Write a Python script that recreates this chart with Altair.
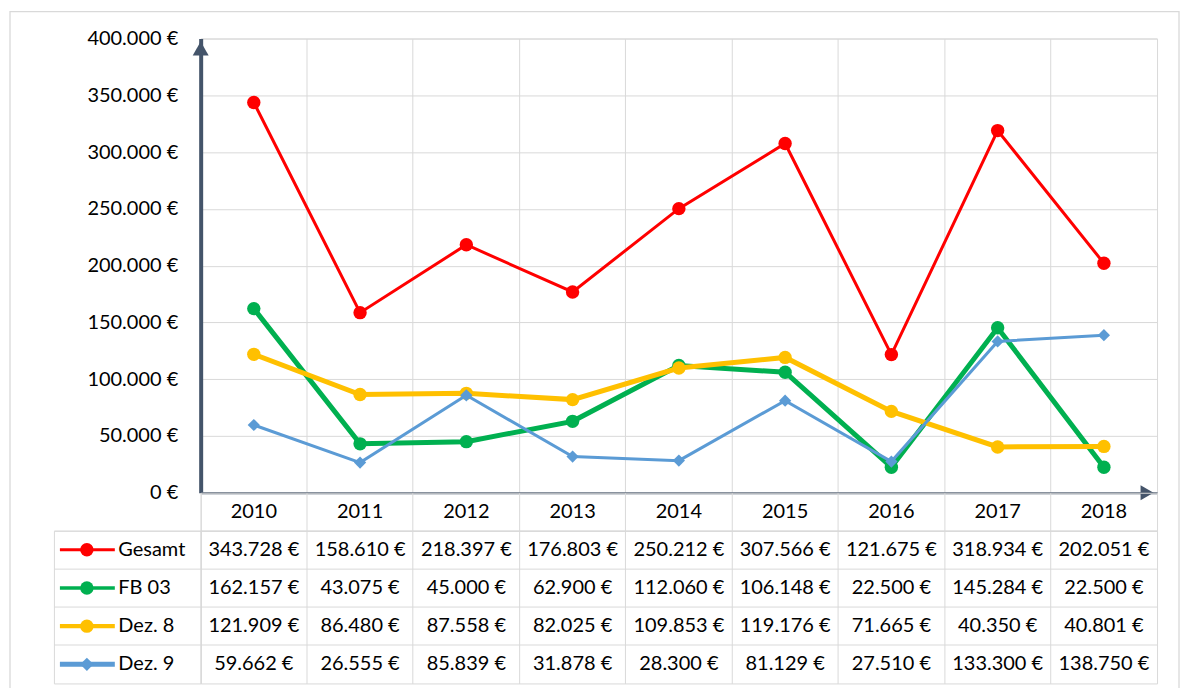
import altair as alt
import pandas as pd

years = ["2010", "2011", "2012", "2013", "2014", "2015", "2016", "2017", "2018"]
series = ["Gesamt", "FB 03", "Dez. 8", "Dez. 9"]
gesamt = [343728, 158610, 218397, 176803, 250212, 307566, 121675, 318934, 202051]
fb03 = [162157, 43075, 45000, 62900, 112060, 106148, 22500, 145284, 22500]
dez8 = [121909, 86480, 87558, 82025, 109853, 119176, 71665, 40350, 40801]
dez9 = [59662, 26555, 85839, 31878, 28300, 81129, 27510, 133300, 138750]
y_ticks = [0, 50000, 100000, 150000, 200000, 250000, 300000, 350000, 400000]

colors = ["#FF0000", "#00B050", "#FFC000", "#5B9BD5"]
widths = [3, 5, 5, 3]
shapes = ["circle", "circle", "circle", "diamond"]
sizes = [180, 180, 180, 150]

FONT = "Lato"
FS = 20
GRID = "#D9D9D9"
AXIS = "#44546A"
W_LBL, W_PLOT = 147, 958
H_PLOT, H_HDR, H_TBL = 455, 38, 153


def fmt(v):
    return f"{v:,}".replace(",", ".") + " €"


rows = []
for s, vals in zip(series, [gesamt, fb03, dez8, dez9]):
    for yr, v in zip(years, vals):
        rows.append({"series": s, "year": yr, "value": v, "label": fmt(v)})
df = pd.DataFrame(rows)

xscale = alt.Scale(type="band", domain=years, paddingInner=0, paddingOuter=0)
yscale = alt.Scale(domain=[0, 400000], nice=False)
sscale = alt.Scale(type="band", domain=series, paddingInner=0, paddingOuter=0)
cscale = alt.Scale(domain=series, range=colors)
wscale = alt.Scale(domain=series, range=widths)
shscale = alt.Scale(domain=series, range=shapes)
szscale = alt.Scale(domain=series, range=sizes)

x_top = alt.X("year:N", scale=xscale, title=None,
              axis=alt.Axis(labels=False, ticks=False, domain=True, domainColor=AXIS,
                            domainWidth=2, grid=True, gridColor=GRID, gridWidth=1,
                            bandPosition=0))
y_top = alt.Y("value:Q", scale=yscale, title=None,
              axis=alt.Axis(values=y_ticks,
                            labelExpr="replace(format(datum.value, ','), ',', '.') + ' €'",
                            labelFont=FONT, labelFontSize=FS, labelColor="#000000",
                            labelPadding=23, ticks=False, tickSize=0, domain=True,
                            domainColor=AXIS, domainWidth=4, grid=True, gridColor=GRID,
                            gridWidth=1))

one = pd.DataFrame({"a": [0]})

# outer chart frame (decoration)
frame = alt.Chart(one).mark_rect(fill="transparent", stroke=GRID, strokeWidth=1.3).encode(
    x=alt.value(-191), x2=alt.value(W_PLOT + 22),
    y=alt.value(-27), y2=alt.value(H_PLOT + 200),
)

layers = [frame]
for s, c, w, sh, sz in zip(series, colors, widths, shapes, sizes):
    base = alt.Chart(df).transform_filter(alt.datum.series == s)
    layers.append(base.mark_line(color=c, strokeWidth=w).encode(x=x_top, y=y_top))
    layers.append(base.mark_point(shape=sh, size=sz, filled=True, color=c, opacity=1)
                  .encode(x=x_top, y=y_top))

arrow_up = alt.Chart(one).mark_point(shape="triangle-up", size=256, filled=True,
                                     color=AXIS, opacity=1, yOffset=10).encode(
    x=alt.value(0), y=alt.datum(400000))
arrow_right = alt.Chart(one).mark_point(shape="triangle-right", size=225, filled=True,
                                        color=AXIS, opacity=1, xOffset=-10).encode(
    x=alt.value(W_PLOT), y=alt.datum(0))

top = alt.layer(*layers, arrow_up, arrow_right).properties(width=W_PLOT, height=H_PLOT)


def spacer(h):
    return alt.Chart(one).mark_point(opacity=0).encode(
        x=alt.value(0), y=alt.value(0)
    ).properties(width=W_LBL, height=h, view=alt.ViewBackground(stroke="transparent"))


grid_x = alt.Axis(labels=False, ticks=False, domain=False, grid=True, gridColor=GRID,
                  bandPosition=0)

hdr = alt.Chart(pd.DataFrame({"year": years})).mark_text(
    font=FONT, fontSize=FS, color="#000000", baseline="middle"
).encode(
    x=alt.X("year:N", scale=xscale, title=None, axis=grid_x),
    text="year:N",
).properties(width=W_PLOT, height=H_HDR)

tbl = alt.Chart(df).mark_text(
    font=FONT, fontSize=FS, color="#000000", baseline="middle"
).encode(
    x=alt.X("year:N", scale=xscale, title=None, axis=grid_x),
    y=alt.Y("series:N", scale=sscale, title=None,
            axis=alt.Axis(labels=False, ticks=False, domain=False, grid=True,
                          gridColor=GRID, bandPosition=0)),
    text="label:N",
).properties(width=W_PLOT, height=H_TBL)

leg_base = alt.Chart(pd.DataFrame({"series": series}))
y_leg = alt.Y("series:N", scale=sscale, title=None,
              axis=alt.Axis(labels=True, labelAlign="left", labelPadding=-64,
                            labelFont=FONT, labelFontSize=FS, labelColor="#000000",
                            ticks=False, tickSize=0, domain=False, grid=True,
                            gridColor=GRID, bandPosition=0))
leg_rule = leg_base.mark_rule().encode(
    x=alt.value(6), x2=alt.value(61), y=y_leg,
    color=alt.Color("series:N", scale=cscale, legend=None),
    strokeWidth=alt.StrokeWidth("series:N", scale=wscale, legend=None),
)
leg_pt = leg_base.mark_point(filled=True, opacity=1).encode(
    x=alt.value(33), y=y_leg,
    color=alt.Color("series:N", scale=cscale, legend=None),
    shape=alt.Shape("series:N", scale=shscale, legend=None),
    size=alt.Size("series:N", scale=szscale, legend=None),
)
lbl = alt.layer(leg_rule, leg_pt).properties(width=W_LBL, height=H_TBL)

chart = alt.concat(
    spacer(H_PLOT), top, spacer(H_HDR), hdr, lbl, tbl,
    columns=2, spacing=0, bounds="flush",
).properties(
    padding={"left": 0, "top": 1, "right": 0, "bottom": 0},
    background="white",
).configure_view(stroke=GRID, strokeWidth=1)

chart.save("out.html", embed_options={"renderer": "svg", "actions": False})
